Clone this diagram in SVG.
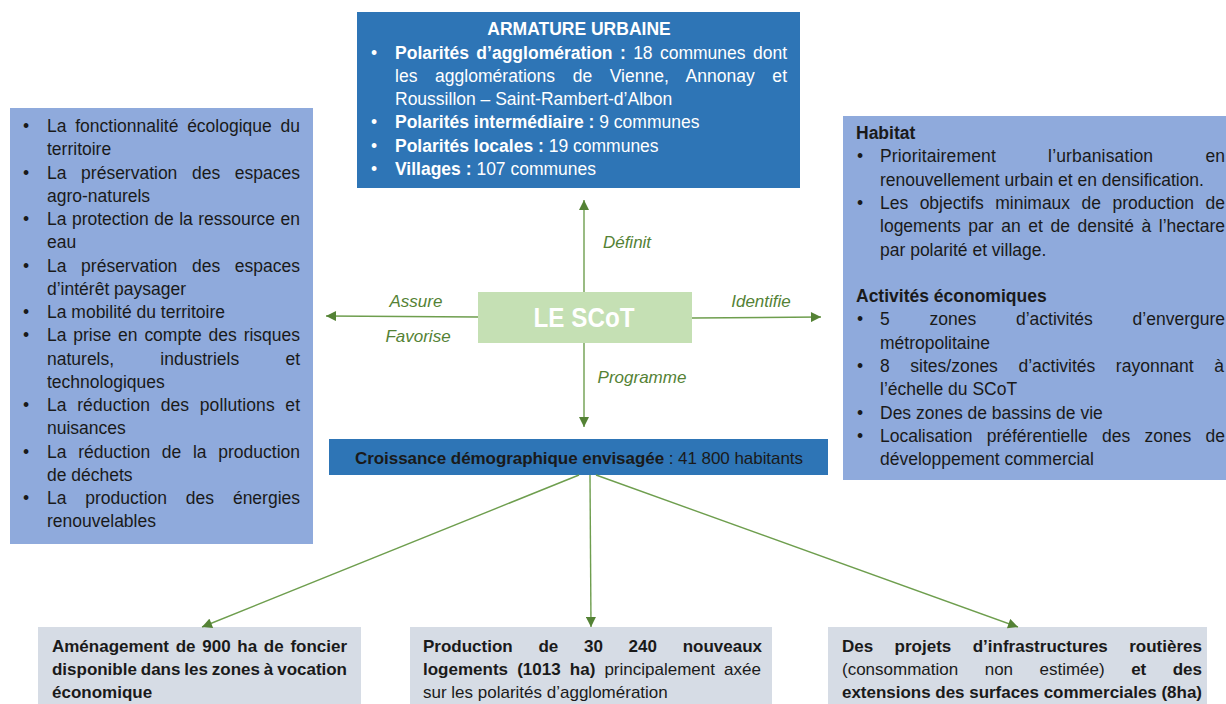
<svg xmlns="http://www.w3.org/2000/svg" width="1226" height="704" viewBox="0 0 1226 704">
<defs>
<style>
text{font-family:"Liberation Sans",Arial,sans-serif;font-size:17.5px}
.w{fill:#ffffff}
.k{fill:#1a1a1a}
.b{font-weight:bold}
.lbl{fill:#548235;font-style:italic;font-size:17px;text-anchor:middle}
.con{stroke:#6E9E4E;stroke-width:1.4;fill:none}
.bl{font-size:17px}
</style>
<marker id="ah" viewBox="0 0 10 10" refX="10" refY="5" markerWidth="11" markerHeight="10" markerUnits="userSpaceOnUse" orient="auto">
<path d="M0,0 L10,5 L0,10 Z" fill="#548235"/>
</marker>
</defs>
<rect width="1226" height="704" fill="#ffffff"/>

<g id="armature">
<rect x="357" y="12" width="443" height="176" fill="#2E75B6"/>
<text class="w b" x="579" y="35" text-anchor="middle">ARMATURE URBAINE</text>
<text class="w" x="371" y="58.5">•</text>
<text class="w" x="395" y="58.5" word-spacing="2.5" textLength="392" lengthAdjust="spacing"><tspan class="b">Polarités d’agglomération :</tspan> 18 communes dont</text>
<text class="w" x="395" y="81.8" word-spacing="12.6" textLength="392" lengthAdjust="spacing">les agglomérations de Vienne, Annonay et</text>
<text class="w" x="395" y="105.1">Roussillon – Saint-Rambert-d’Albon</text>
<text class="w" x="371" y="128.4">•</text>
<text class="w" x="395" y="128.4"><tspan class="b">Polarités intermédiaire :</tspan> 9 communes</text>
<text class="w" x="371" y="151.7">•</text>
<text class="w" x="395" y="151.7"><tspan class="b">Polarités locales :</tspan> 19 communes</text>
<text class="w" x="371" y="175">•</text>
<text class="w" x="395" y="175"><tspan class="b">Villages :</tspan> 107 communes</text>
</g>

<g id="environnement">
<rect x="10" y="108" width="303" height="436" fill="#8FAADC"/>
<text class="k" x="23" y="132">•</text>
<text class="k" x="47" y="132" word-spacing="3.9" textLength="253" lengthAdjust="spacing">La fonctionnalité écologique du</text>
<text class="k" x="47" y="155.25">territoire</text>
<text class="k" x="23" y="178.5">•</text>
<text class="k" x="47" y="178.5" word-spacing="9.8" textLength="253" lengthAdjust="spacing">La préservation des espaces</text>
<text class="k" x="47" y="201.75">agro-naturels</text>
<text class="k" x="23" y="225">•</text>
<text class="k" x="47" y="225" word-spacing="0.6" textLength="253" lengthAdjust="spacing">La protection de la ressource en</text>
<text class="k" x="47" y="248.25">eau</text>
<text class="k" x="23" y="271.5">•</text>
<text class="k" x="47" y="271.5" word-spacing="9.8" textLength="253" lengthAdjust="spacing">La préservation des espaces</text>
<text class="k" x="47" y="294.75">d’intérêt paysager</text>
<text class="k" x="23" y="318">•</text>
<text class="k" x="47" y="318">La mobilité du territoire</text>
<text class="k" x="23" y="341.25">•</text>
<text class="k" x="47" y="341.25" word-spacing="2" textLength="253" lengthAdjust="spacing">La prise en compte des risques</text>
<text class="k" x="47" y="364.5" word-spacing="41.4" textLength="253" lengthAdjust="spacing">naturels, industriels et</text>
<text class="k" x="47" y="387.75">technologiques</text>
<text class="k" x="23" y="411">•</text>
<text class="k" x="47" y="411" word-spacing="5.5" textLength="253" lengthAdjust="spacing">La réduction des pollutions et</text>
<text class="k" x="47" y="434.25">nuisances</text>
<text class="k" x="23" y="457.5">•</text>
<text class="k" x="47" y="457.5" word-spacing="6.8" textLength="253" lengthAdjust="spacing">La réduction de la production</text>
<text class="k" x="47" y="480.75">de déchets</text>
<text class="k" x="23" y="504">•</text>
<text class="k" x="47" y="504" word-spacing="14" textLength="253" lengthAdjust="spacing">La production des énergies</text>
<text class="k" x="47" y="527.25">renouvelables</text>
</g>

<g id="habitat-activites">
<rect x="843" y="116" width="390" height="364" fill="#8FAADC"/>
<text class="k b" x="856" y="139">Habitat</text>
<text class="k" x="857" y="162.3">•</text>
<text class="k" x="880" y="162.3" word-spacing="47.2" textLength="345" lengthAdjust="spacing">Prioritairement l’urbanisation en</text>
<text class="k" x="880" y="185.6">renouvellement urbain et en densification.</text>
<text class="k" x="857" y="208.9">•</text>
<text class="k" x="880" y="208.9" word-spacing="6.6" textLength="345" lengthAdjust="spacing">Les objectifs minimaux de production de</text>
<text class="k" x="880" y="232.2" word-spacing="2.7" textLength="345" lengthAdjust="spacing">logements par an et de densité à l’hectare</text>
<text class="k" x="880" y="255.5">par polarité et village.</text>
<text class="k b" x="856" y="302.1">Activités économiques</text>
<text class="k" x="857" y="325.4">•</text>
<text class="k" x="880" y="325.4" word-spacing="34.9" textLength="345" lengthAdjust="spacing">5 zones d’activités d’envergure</text>
<text class="k" x="880" y="348.7">métropolitaine</text>
<text class="k" x="857" y="372">•</text>
<text class="k" x="880" y="372" word-spacing="15.7" textLength="344" lengthAdjust="spacing">8 sites/zones d’activités rayonnant à</text>
<text class="k" x="880" y="395.3">l’échelle du SCoT</text>
<text class="k" x="857" y="418.6">•</text>
<text class="k" x="880" y="418.6">Des zones de bassins de vie</text>
<text class="k" x="857" y="441.9">•</text>
<text class="k" x="880" y="441.9" word-spacing="9.4" textLength="345" lengthAdjust="spacing">Localisation préférentielle des zones de</text>
<text class="k" x="880" y="465.2">développement commercial</text>
</g>

<g id="scot">
<rect x="478" y="292" width="214" height="51" fill="#C5E0B4"/>
<text x="584" y="327" text-anchor="middle" fill="#ffffff" font-weight="bold" style="font-size:27px" textLength="101" lengthAdjust="spacingAndGlyphs">LE SCoT</text>
</g>

<g id="croissance">
<rect x="329" y="439" width="499" height="36" fill="#2E75B6"/>
<text class="k" x="355" y="463.5" style="font-size:17px" textLength="448" lengthAdjust="spacing"><tspan class="b">Croissance démographique envisagée</tspan> : 41 800 habitants</text>
</g>

<g id="foncier-eco">
<rect x="38" y="627" width="323" height="80" fill="#D6DCE5"/>
<text class="k b bl" x="52" y="652" word-spacing="2" textLength="295" lengthAdjust="spacing">Aménagement de 900 ha de foncier</text>
<text class="k b bl" x="52" y="675" word-spacing="-0.8" textLength="295" lengthAdjust="spacing">disponible dans les zones à vocation</text>
<text class="k b bl" x="52" y="698">économique</text>
</g>

<g id="logements">
<rect x="410" y="627" width="362" height="80" fill="#D6DCE5"/>
<text class="k b bl" x="423" y="652" word-spacing="21" textLength="339" lengthAdjust="spacing">Production de 30 240 nouveaux</text>
<text class="k bl" x="423" y="675" word-spacing="4.4" textLength="338" lengthAdjust="spacing"><tspan class="b">logements (1013 ha)</tspan> principalement axée</text>
<text class="k bl" x="423" y="698">sur les polarités d’agglomération</text>
</g>

<g id="infrastructures">
<rect x="828" y="627" width="379" height="80" fill="#D6DCE5"/>
<text class="k b bl" x="842" y="652" word-spacing="16.7" textLength="360" lengthAdjust="spacing">Des projets d’infrastructures routières</text>
<text class="k bl" x="842" y="675" word-spacing="21.7" textLength="360" lengthAdjust="spacing">(consommation non estimée) <tspan class="b">et des</tspan></text>
<text class="k b bl" x="842" y="698" textLength="360" lengthAdjust="spacing">extensions des surfaces commerciales (8ha)</text>
</g>

<g id="connectors">
<line class="con" x1="584" y1="292" x2="584" y2="200" marker-end="url(#ah)"/>
<line class="con" x1="584" y1="343" x2="584" y2="427" marker-end="url(#ah)"/>
<line class="con" x1="478" y1="317" x2="326" y2="316" marker-end="url(#ah)"/>
<line class="con" x1="692" y1="318" x2="821" y2="317" marker-end="url(#ah)"/>
<line class="con" x1="579" y1="475" x2="202" y2="627" marker-end="url(#ah)"/>
<line class="con" x1="590" y1="475" x2="591" y2="627" marker-end="url(#ah)"/>
<line class="con" x1="596" y1="475" x2="1018" y2="627" marker-end="url(#ah)"/>
<text class="lbl" x="627" y="248">Définit</text>
<text class="lbl" x="416" y="307">Assure</text>
<text class="lbl" x="418" y="342">Favorise</text>
<text class="lbl" x="761" y="307">Identifie</text>
<text class="lbl" x="642" y="383">Programme</text>
</g>
</svg>
